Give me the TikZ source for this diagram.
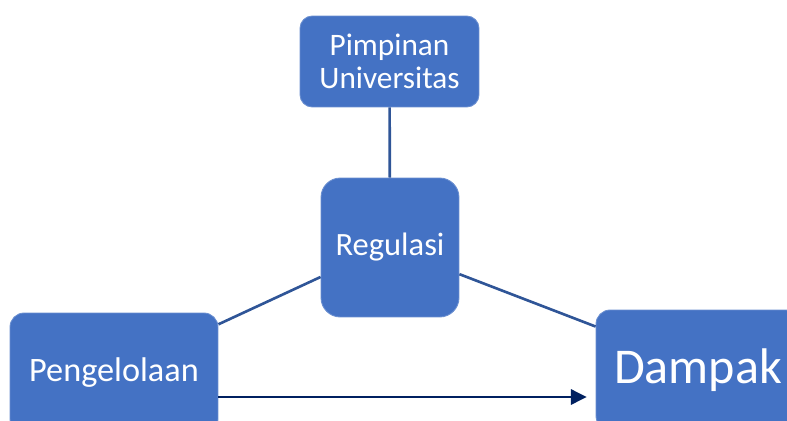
\documentclass[tikz,border=0pt]{standalone}
\usepackage{fontspec}
\setmainfont{Carlito}
\usepackage{xcolor}
\usetikzlibrary{arrows.meta,positioning}

\definecolor{boxblue}{HTML}{4472C4}
\definecolor{lineblue}{HTML}{2F5597}
\definecolor{navy}{HTML}{002060}

\begin{document}
\begin{tikzpicture}[
    x=0.02cm, y=-0.02cm,
    box/.style={rectangle, draw=boxblue!80!white, line width=0.5pt, fill=boxblue, text=white, align=center, inner sep=0pt},
    link/.style={draw=lineblue, line width=1.5pt},
    arrow/.style={draw=navy, line width=1.7pt, -{Triangle[length=9pt,width=8.5pt]}, shorten >=5pt}
]
\clip (0,0) rectangle (787,420);

% Top
\node (pimpinan) [box, minimum width=3.58cm, minimum height=1.82cm, rounded corners=7pt,
    font=\fontsize{17.8}{19}\selectfont] at (389.5,61.5) {Pimpinan\\Universitas};

% Centre
\node (regulasi) [box, minimum width=2.76cm, minimum height=2.78cm, rounded corners=11pt,
    font=\fontsize{18.5}{20}\selectfont] at (390,247.5) {Regulasi};

% Bottom row
\node (pengelolaan) [box, minimum width=4.16cm, minimum height=2.4cm, rounded corners=8pt,
    font=\fontsize{19.5}{21}\selectfont] at (114,373) {Pengelolaan};
\node (dampak) [box, minimum width=4.08cm, minimum height=2.4cm, rounded corners=8pt,
    font=\fontsize{28.5}{30}\selectfont] at (698,370) {Dampak};

\draw [link] (pimpinan) -- (regulasi);
\draw [link] (regulasi.203.8) -- (pengelolaan.25.7);
\draw [link] (regulasi.-21) -- (dampak.157);
\draw [arrow] ([yshift=-0.48cm]pengelolaan.east) -- ([yshift=-0.48cm]pengelolaan.east -| dampak.west);

\end{tikzpicture}
\end{document}
